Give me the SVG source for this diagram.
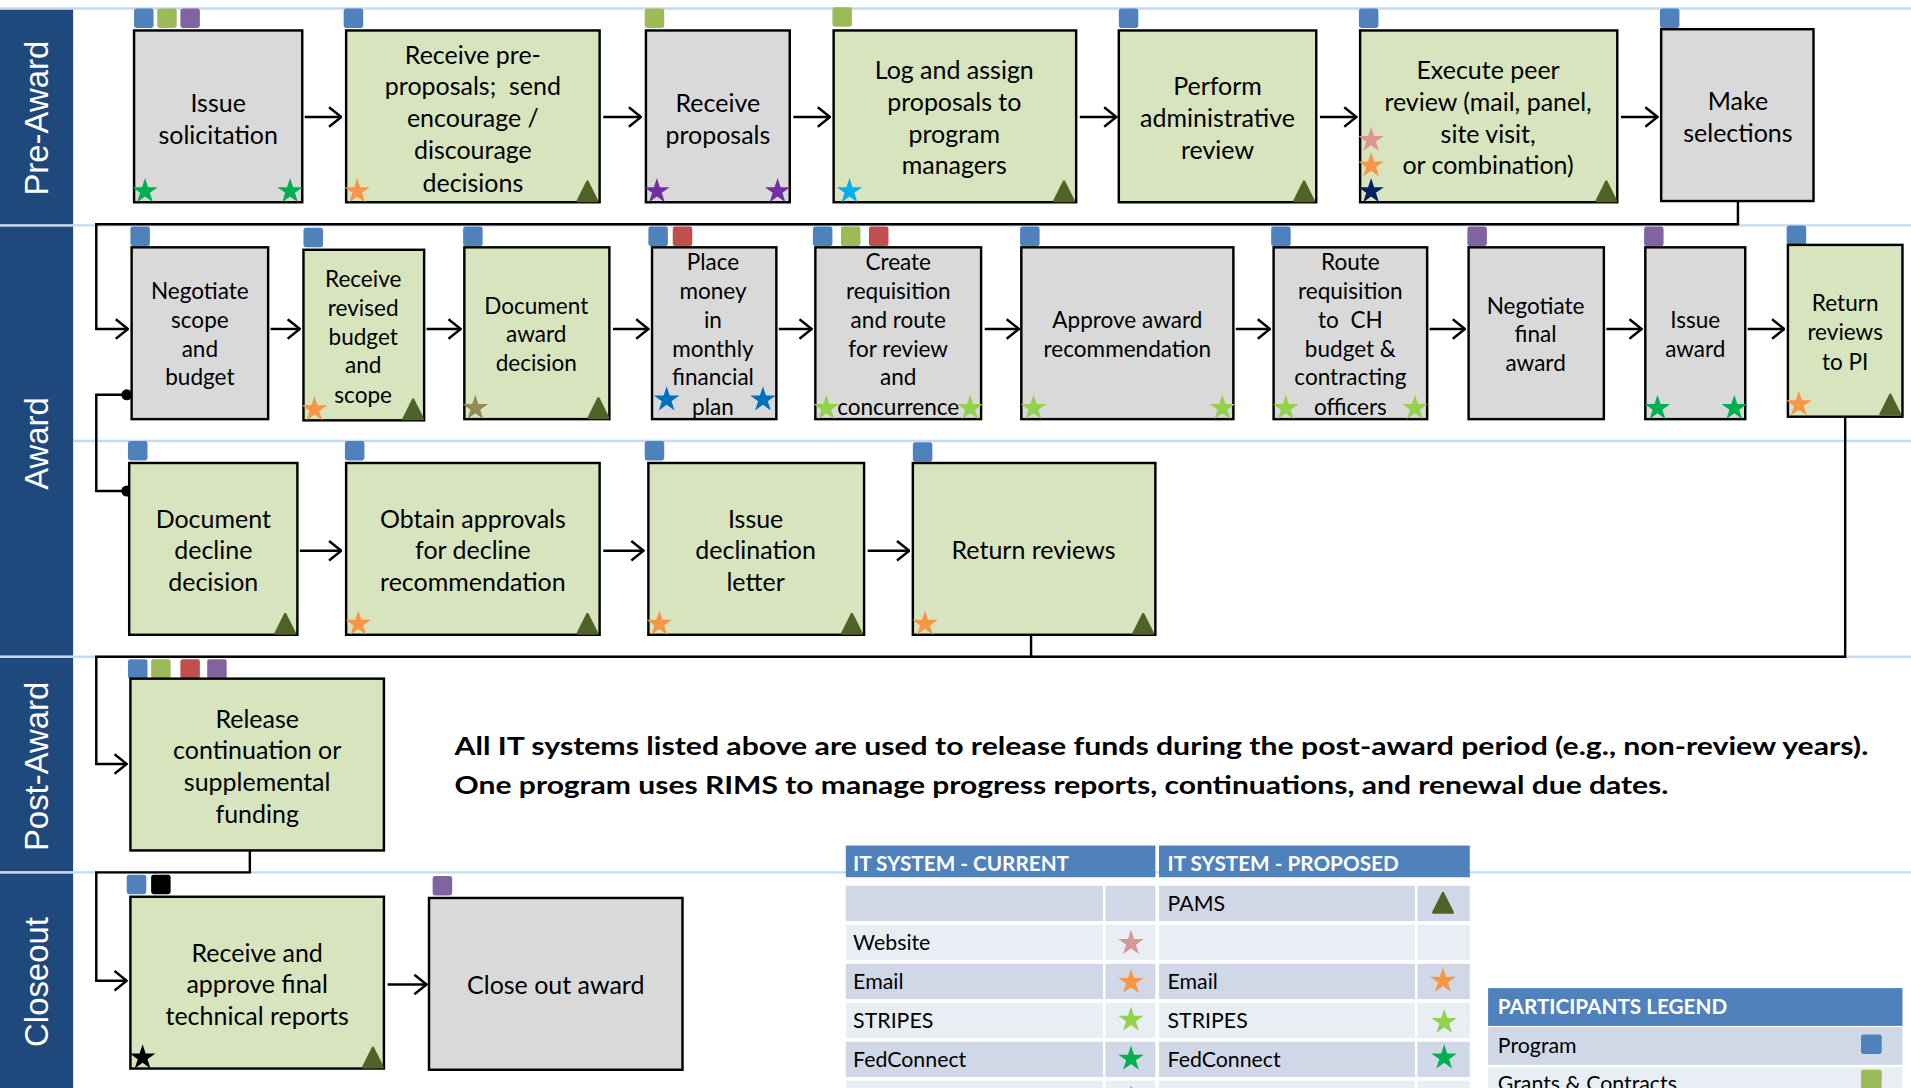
<svg xmlns="http://www.w3.org/2000/svg" xmlns:xlink="http://www.w3.org/1999/xlink" width="1911" height="1088" viewBox="0 0 1911 1088">
<style>
.g{fill:#d9d9d9;stroke:#000;stroke-width:2}
.v{fill:#d7e4bd;stroke:#000;stroke-width:2}
.t1{font-family:Lato,"Liberation Sans",sans-serif;font-size:20.5px;text-anchor:middle;dominant-baseline:central;fill:#000}
.t2{font-family:Lato,"Liberation Sans",sans-serif;font-size:18.5px;text-anchor:middle;dominant-baseline:central;fill:#000}
.lane{fill:#1f497d}
.lt{font-family:"Liberation Sans",Arial,sans-serif;font-size:27px;fill:#fff;text-anchor:middle;dominant-baseline:central}
.sep{stroke:#c6d9f1;stroke-width:2;fill:none}
.c{stroke:#000;stroke-width:2;fill:none}
.a{stroke:#000;stroke-width:2;fill:none;marker-end:url(#arr)}
.pb{fill:#4f81bd}.pg{fill:#9bbb59}.pp{fill:#8064a2}.pr{fill:#c0504d}.pk{fill:#000}
.hd{fill:#4f81bd}
.r1{fill:#d0d8e8}.r2{fill:#e9edf4}
.ht{font-family:Lato,"Liberation Sans",sans-serif;font-size:17px;font-weight:bold;fill:#fff;dominant-baseline:central}
.tt{font-family:Lato,"Liberation Sans",sans-serif;font-size:17.5px;fill:#000;dominant-baseline:central}
.note{font-family:Lato,"Liberation Sans",sans-serif;font-size:21px;font-weight:bold;fill:#000}
</style>
<defs>
<marker id="arr" viewBox="0 0 12 18" refX="11" refY="9" markerWidth="12" markerHeight="18" markerUnits="userSpaceOnUse" orient="auto">
<path d="M1,1 L11,9 L1,17" fill="none" stroke="#000" stroke-width="2"/>
</marker>
<path id="star" d="M0,-11 L2.48,-3.4 L10.46,-3.4 L3.99,1.3 L6.47,8.9 L0,4.2 L-6.47,8.9 L-3.99,1.3 L-10.46,-3.4 L-2.48,-3.4 Z"/>
<path id="tri" d="M-8,7 L0,-9 L8,7 Z" fill="#4f6228" stroke="#4f6228" stroke-width="2" stroke-linejoin="round"/>
<rect id="tag" width="16" height="16" rx="2"/>
</defs>
<rect width="1911" height="1088" fill="#fff"/>
<g transform="scale(1.21875 1.2184)">
<g id="lanes">
<path class="sep" d="M0,7 H1568 M0,185 H1568 M60,362 H1568 M0,539 H1568 M0,716 H1568"/>
<rect class="lane" x="0" y="8" width="60" height="176"/>
<rect class="lane" x="0" y="186" width="60" height="352"/>
<rect class="lane" x="0" y="540" width="60" height="175"/>
<rect class="lane" x="0" y="717" width="60" height="176"/>
<text class="lt" transform="translate(30,97) rotate(-90)">Pre-Award</text>
<text class="lt" transform="translate(30,364) rotate(-90)">Award</text>
<text class="lt" transform="translate(30,629) rotate(-90)">Post-Award</text>
<text class="lt" transform="translate(30,806) rotate(-90)">Closeout</text>
</g>
<g id="connectors">
<path class="a" d="M250,96 H280"/>
<path class="a" d="M495,96 H526"/>
<path class="a" d="M651,96 H681"/>
<path class="a" d="M886,96 H916"/>
<path class="a" d="M1083,96 H1113"/>
<path class="a" d="M1330,96 H1360"/>
<path class="a" d="M1426,165 V184 H79 V270 H105"/>
<path class="a" d="M222,270 H246"/>
<path class="a" d="M350,270 H378"/>
<path class="a" d="M503,270 H532"/>
<path class="a" d="M639,270 H666"/>
<path class="a" d="M808,270 H836"/>
<path class="a" d="M1014,270 H1042"/>
<path class="a" d="M1173,270 H1202"/>
<path class="a" d="M1318,270 H1347"/>
<path class="a" d="M1434,270 H1464"/>
<path class="c" d="M104,324 H79 V403 H104"/>
<circle cx="104" cy="324" r="4.5"/>
<circle cx="104" cy="403" r="4.5"/>
<path class="a" d="M246,452 H280"/>
<path class="a" d="M495,452 H528"/>
<path class="a" d="M712,452 H746"/>
<path class="c" d="M846,521 V539"/>
<path class="a" d="M1514,342 V539 H79 V627 H104"/>
<path class="a" d="M205,698 V716 H79 V805 H104"/>
<path class="a" d="M318,808 H350"/>
</g>
<g id="n-issue-solicitation">
<use href="#tag" class="pb" x="110" y="7"/><use href="#tag" class="pg" x="129" y="7"/><use href="#tag" class="pp" x="148" y="7"/>
<rect class="g" x="110" y="25" width="138" height="141"/>
<text class="t1" x="179"><tspan x="179" y="84">Issue</tspan><tspan x="179" y="110">solicitation</tspan></text>
<use href="#star" fill="#00b050" x="119" y="157"/><use href="#star" fill="#00b050" x="238" y="157"/>
</g>
<g id="n-receive-preproposals">
<use href="#tag" class="pb" x="282" y="7"/>
<rect class="v" x="284" y="25" width="208" height="141"/>
<text class="t1"><tspan x="388" y="44">Receive pre-</tspan><tspan x="388" y="70">proposals;&#160; send</tspan><tspan x="388" y="96">encourage /</tspan><tspan x="388" y="122">discourage</tspan><tspan x="388" y="149">decisions</tspan></text>
<use href="#star" fill="#f79646" x="293" y="157"/><use href="#tri" x="482" y="158"/>
</g>
<g id="n-receive-proposals">
<use href="#tag" class="pg" x="529" y="7"/>
<rect class="g" x="530" y="25" width="118" height="141"/>
<text class="t1"><tspan x="589" y="84">Receive</tspan><tspan x="589" y="110">proposals</tspan></text>
<use href="#star" fill="#7030a0" x="539" y="157"/><use href="#star" fill="#7030a0" x="638" y="157"/>
</g>
<g id="n-log-assign">
<use href="#tag" class="pg" x="683" y="6"/>
<rect class="v" x="684" y="25" width="199" height="141"/>
<text class="t1"><tspan x="783" y="57">Log and assign</tspan><tspan x="783" y="83">proposals to</tspan><tspan x="783" y="109">program</tspan><tspan x="783" y="135">managers</tspan></text>
<use href="#star" fill="#00b0f0" x="697" y="157"/><use href="#tri" x="873" y="158"/>
</g>
<g id="n-admin-review">
<use href="#tag" class="pb" x="918" y="7"/>
<rect class="v" x="918" y="25" width="162" height="141"/>
<text class="t1"><tspan x="999" y="70">Perform</tspan><tspan x="999" y="96">administrative</tspan><tspan x="999" y="122">review</tspan></text>
<use href="#tri" x="1070" y="158"/>
</g>
<g id="n-peer-review">
<use href="#tag" class="pb" x="1115" y="7"/>
<rect class="v" x="1116" y="25" width="211" height="141"/>
<text class="t1"><tspan x="1221" y="57">Execute peer</tspan><tspan x="1221" y="83">review (mail, panel,</tspan><tspan x="1221" y="109">site visit,</tspan><tspan x="1221" y="135">or combination)</tspan></text>
<use href="#star" fill="#d99694" x="1125" y="115"/><use href="#star" fill="#f79646" x="1125" y="136"/><use href="#star" fill="#002060" x="1125" y="157"/>
<use href="#tri" x="1318" y="158"/>
</g>
<g id="n-make-selections">
<use href="#tag" class="pb" x="1362" y="7"/>
<rect class="g" x="1363" y="24" width="125" height="141"/>
<text class="t1"><tspan x="1426" y="82">Make</tspan><tspan x="1426" y="108">selections</tspan></text>
</g>
<g id="n-negotiate-scope">
<use href="#tag" class="pb" x="107" y="186"/>
<rect class="g" x="108" y="203" width="112" height="141"/>
<text class="t2"><tspan x="164" y="238">Negotiate</tspan><tspan x="164" y="262">scope</tspan><tspan x="164" y="286">and</tspan><tspan x="164" y="309">budget</tspan></text>
</g>
<g id="n-receive-revised">
<use href="#tag" class="pb" x="249" y="187"/>
<rect class="v" x="249" y="205" width="99" height="140"/>
<text class="t2"><tspan x="298" y="228">Receive</tspan><tspan x="298" y="252">revised</tspan><tspan x="298" y="276">budget</tspan><tspan x="298" y="299">and</tspan><tspan x="298" y="323">scope</tspan></text>
<use href="#star" fill="#f79646" x="258" y="336"/><use href="#tri" x="339" y="337"/>
</g>
<g id="n-document-award">
<use href="#tag" class="pb" x="380" y="186"/>
<rect class="v" x="381" y="203" width="119" height="141"/>
<text class="t2"><tspan x="440" y="250">Document</tspan><tspan x="440" y="273">award</tspan><tspan x="440" y="297">decision</tspan></text>
<use href="#star" fill="#948a54" x="390" y="335"/><use href="#tri" x="491" y="336"/>
</g>
<g id="n-place-money">
<use href="#tag" class="pb" x="532" y="186"/><use href="#tag" class="pr" x="552" y="186"/>
<rect class="g" x="535" y="203" width="102" height="141"/>
<text class="t2"><tspan x="585" y="214">Place</tspan><tspan x="585" y="238">money</tspan><tspan x="585" y="262">in</tspan><tspan x="585" y="286">monthly</tspan><tspan x="585" y="309">financial</tspan><tspan x="585" y="333">plan</tspan></text>
<use href="#star" fill="#0070c0" x="547" y="328"/><use href="#star" fill="#0070c0" x="626" y="328"/>
</g>
<g id="n-create-requisition">
<use href="#tag" class="pb" x="667" y="186"/><use href="#tag" class="pg" x="690" y="186"/><use href="#tag" class="pr" x="713" y="186"/>
<rect class="g" x="669" y="203" width="136" height="141"/>
<text class="t2"><tspan x="737" y="214">Create</tspan><tspan x="737" y="238">requisition</tspan><tspan x="737" y="262">and route</tspan><tspan x="737" y="286">for review</tspan><tspan x="737" y="309">and</tspan><tspan x="737" y="333">concurrence</tspan></text>
<use href="#star" fill="#92d050" x="678" y="335"/><use href="#star" fill="#92d050" x="796" y="335"/>
</g>
<g id="n-approve-award">
<use href="#tag" class="pb" x="837" y="186"/>
<rect class="g" x="838" y="203" width="174" height="141"/>
<text class="t2"><tspan x="925" y="262">Approve award</tspan><tspan x="925" y="286">recommendation</tspan></text>
<use href="#star" fill="#92d050" x="848" y="335"/><use href="#star" fill="#92d050" x="1003" y="335"/>
</g>
<g id="n-route-requisition">
<use href="#tag" class="pb" x="1043" y="186"/>
<rect class="g" x="1045" y="203" width="126" height="141"/>
<text class="t2"><tspan x="1108" y="214">Route</tspan><tspan x="1108" y="238">requisition</tspan><tspan x="1108" y="262">to&#160; CH</tspan><tspan x="1108" y="286">budget &amp;</tspan><tspan x="1108" y="309">contracting</tspan><tspan x="1108" y="333">officers</tspan></text>
<use href="#star" fill="#92d050" x="1055" y="335"/><use href="#star" fill="#92d050" x="1161" y="335"/>
</g>
<g id="n-negotiate-final">
<use href="#tag" class="pp" x="1204" y="186"/>
<rect class="g" x="1205" y="203" width="111" height="141"/>
<text class="t2"><tspan x="1260" y="250">Negotiate</tspan><tspan x="1260" y="273">final</tspan><tspan x="1260" y="297">award</tspan></text>
</g>
<g id="n-issue-award">
<use href="#tag" class="pp" x="1349" y="186"/>
<rect class="g" x="1350" y="203" width="82" height="141"/>
<text class="t2"><tspan x="1391" y="262">Issue</tspan><tspan x="1391" y="286">award</tspan></text>
<use href="#star" fill="#00b050" x="1360" y="335"/><use href="#star" fill="#00b050" x="1423" y="335"/>
</g>
<g id="n-return-reviews-pi">
<use href="#tag" class="pb" x="1466" y="185"/>
<rect class="v" x="1467" y="201" width="94" height="141"/>
<text class="t2"><tspan x="1514" y="248">Return</tspan><tspan x="1514" y="272">reviews</tspan><tspan x="1514" y="296">to PI</tspan></text>
<use href="#star" fill="#f79646" x="1476" y="332"/><use href="#tri" x="1551" y="333"/>
</g>
<g id="n-document-decline">
<use href="#tag" class="pb" x="105" y="362"/>
<rect class="v" x="106" y="380" width="138" height="141"/>
<text class="t1"><tspan x="175" y="425">Document</tspan><tspan x="175" y="451">decline</tspan><tspan x="175" y="477">decision</tspan></text>
<use href="#tri" x="234" y="513"/>
</g>
<g id="n-obtain-approvals">
<use href="#tag" class="pb" x="283" y="362"/>
<rect class="v" x="284" y="380" width="208" height="141"/>
<text class="t1"><tspan x="388" y="425">Obtain approvals</tspan><tspan x="388" y="451">for decline</tspan><tspan x="388" y="477">recommendation</tspan></text>
<use href="#star" fill="#f79646" x="294" y="512"/><use href="#tri" x="482" y="513"/>
</g>
<g id="n-issue-declination">
<use href="#tag" class="pb" x="529" y="362"/>
<rect class="v" x="532" y="380" width="177" height="141"/>
<text class="t1"><tspan x="620" y="425">Issue</tspan><tspan x="620" y="451">declination</tspan><tspan x="620" y="477">letter</tspan></text>
<use href="#star" fill="#f79646" x="541" y="512"/><use href="#tri" x="699" y="513"/>
</g>
<g id="n-return-reviews">
<use href="#tag" class="pb" x="749" y="363"/>
<rect class="v" x="749" y="380" width="199" height="141"/>
<text class="t1" x="848" y="451">Return reviews</text>
<use href="#star" fill="#f79646" x="759" y="512"/><use href="#tri" x="938" y="513"/>
</g>
<g id="n-release-continuation">
<use href="#tag" class="pb" x="105" y="541"/><use href="#tag" class="pg" x="124" y="541"/><use href="#tag" class="pr" x="148" y="541"/><use href="#tag" class="pp" x="170" y="541"/>
<rect class="v" x="107" y="557" width="208" height="141"/>
<text class="t1"><tspan x="211" y="589">Release</tspan><tspan x="211" y="615">continuation or</tspan><tspan x="211" y="641">supplemental</tspan><tspan x="211" y="667">funding</tspan></text>
</g>
<g id="n-final-reports">
<use href="#tag" class="pb" x="104" y="718"/><use href="#tag" class="pk" x="124" y="718"/>
<rect class="v" x="107" y="736" width="208" height="141"/>
<text class="t1"><tspan x="211" y="781">Receive and</tspan><tspan x="211" y="807">approve final</tspan><tspan x="211" y="833">technical reports</tspan></text>
<use href="#star" fill="#000" x="117" y="868"/><use href="#tri" x="306" y="869"/>
</g>
<g id="n-close-out">
<use href="#tag" class="pp" x="355" y="719"/>
<rect class="g" x="352" y="737" width="208" height="141"/>
<text class="t1" x="456" y="808">Close out award</text>
</g>
<g id="note">
<text class="note" x="373" y="620" textLength="1160" lengthAdjust="spacingAndGlyphs">All IT systems listed above are used to release funds during the post-award period (e.g., non-review years).</text>
<text class="note" x="373" y="652" textLength="996" lengthAdjust="spacingAndGlyphs">One program uses RIMS to manage progress reports, continuations, and renewal due dates.</text>
</g>
<g id="it-table">
<rect class="hd" x="694" y="694" width="254" height="26"/>
<rect class="hd" x="951" y="694" width="255" height="26"/>
<text class="ht" x="700" y="708">IT SYSTEM - CURRENT</text>
<text class="ht" x="958" y="708">IT SYSTEM - PROPOSED</text>
<rect class="r1" x="694" y="727" width="211" height="29"/><rect class="r1" x="907" y="727" width="41" height="29"/><rect class="r1" x="951" y="727" width="210" height="29"/><rect class="r1" x="1163" y="727" width="43" height="29"/>
<rect class="r2" x="694" y="759" width="211" height="29"/><rect class="r2" x="907" y="759" width="41" height="29"/><rect class="r2" x="951" y="759" width="210" height="29"/><rect class="r2" x="1163" y="759" width="43" height="29"/>
<rect class="r1" x="694" y="791" width="211" height="29"/><rect class="r1" x="907" y="791" width="41" height="29"/><rect class="r1" x="951" y="791" width="210" height="29"/><rect class="r1" x="1163" y="791" width="43" height="29"/>
<rect class="r2" x="694" y="823" width="211" height="29"/><rect class="r2" x="907" y="823" width="41" height="29"/><rect class="r2" x="951" y="823" width="210" height="29"/><rect class="r2" x="1163" y="823" width="43" height="29"/>
<rect class="r1" x="694" y="855" width="211" height="29"/><rect class="r1" x="907" y="855" width="41" height="29"/><rect class="r1" x="951" y="855" width="210" height="29"/><rect class="r1" x="1163" y="855" width="43" height="29"/>
<rect class="r2" x="694" y="887" width="211" height="29"/><rect class="r2" x="907" y="887" width="41" height="29"/><rect class="r2" x="951" y="887" width="210" height="29"/><rect class="r2" x="1163" y="887" width="43" height="29"/>
<text class="tt" x="958" y="741">PAMS</text><use href="#tri" x="1184" y="742"/>
<text class="tt" x="700" y="773">Website</text><use href="#star" fill="#d99694" x="928" y="774"/>
<text class="tt" x="700" y="805">Email</text><use href="#star" fill="#f79646" x="928" y="806"/>
<text class="tt" x="958" y="805">Email</text><use href="#star" fill="#f79646" x="1184" y="805"/>
<text class="tt" x="700" y="837">STRIPES</text><use href="#star" fill="#92d050" x="928" y="837"/>
<text class="tt" x="958" y="837">STRIPES</text><use href="#star" fill="#92d050" x="1185" y="839"/>
<text class="tt" x="700" y="869">FedConnect</text><use href="#star" fill="#00b050" x="928" y="869"/>
<text class="tt" x="958" y="869">FedConnect</text><use href="#star" fill="#00b050" x="1185" y="868"/>
<use href="#star" fill="#00b0f0" x="928" y="902"/>
</g>
<g id="participants-legend">
<rect class="hd" x="1221" y="811" width="340" height="31"/>
<text class="ht" x="1229" y="826">PARTICIPANTS LEGEND</text>
<rect class="r1" x="1221" y="843" width="340" height="31"/>
<text class="tt" x="1229" y="858">Program</text>
<rect class="pb" x="1527" y="849" width="17" height="16" rx="2"/>
<rect class="r2" x="1221" y="876" width="340" height="20"/>
<text class="tt" x="1229" y="889">Grants &amp; Contracts</text>
<rect class="pg" x="1527" y="878" width="17" height="16" rx="2"/>
</g>
</g>
</svg>
